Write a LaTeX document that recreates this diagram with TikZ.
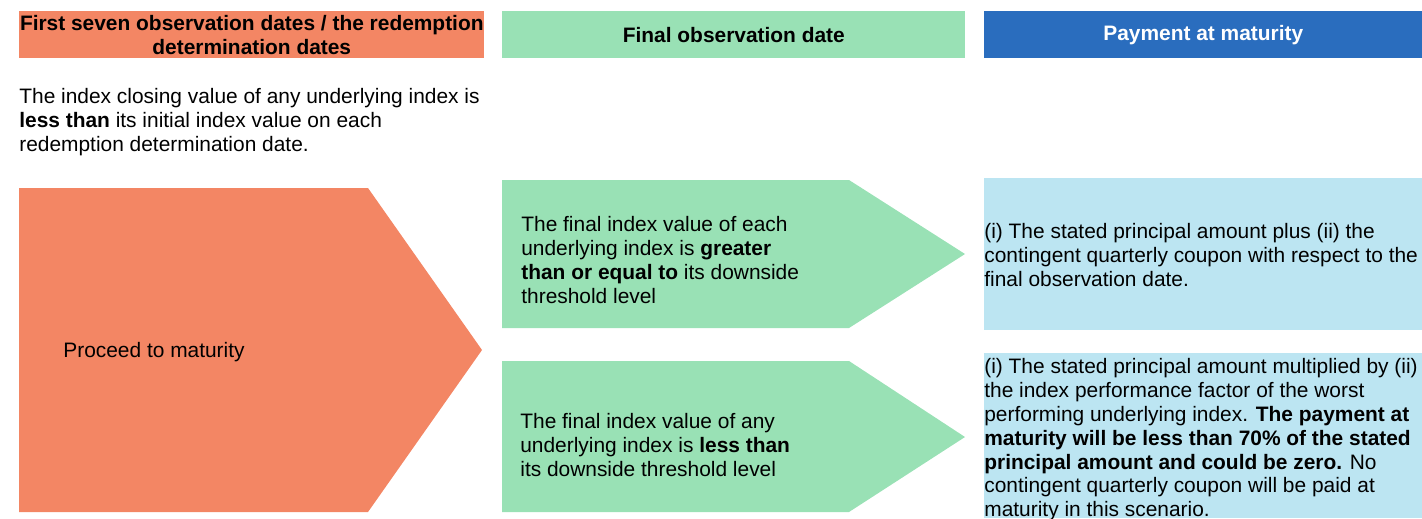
\documentclass[tikz,border=0pt]{standalone}
\usepackage{fontspec}
\setmainfont{Liberation Sans}
\usepackage{tikz}
\usetikzlibrary{positioning}
\definecolor{obsorange}{RGB}{243,134,100}
\definecolor{obsgreen}{RGB}{153,225,181}
\definecolor{paydark}{RGB}{42,109,190}
\definecolor{paylight}{RGB}{188,229,242}

\begin{document}
\begin{tikzpicture}[x=0.02cm,y=-0.02cm,
    hdr/.style={anchor=north west,inner sep=0pt,minimum height=0.94cm,
                align=center,font=\fontsize{11.9}{13.6}\selectfont\bfseries},
    txt/.style={anchor=north west,inner sep=0pt,align=left,
                font=\fontsize{11.9}{13.6}\selectfont}]
  \useasboundingbox (0,0) rectangle (1422,518);
  % column headers
  \node[hdr,fill=obsorange,minimum width=9.3cm] (hfirst) at (19,11)
    {First seven observation dates / the redemption\\determination dates};
  \node[hdr,fill=obsgreen,minimum width=9.26cm] (hfinal) at (502,11)
    {Final observation date};
  \node[hdr,fill=paydark,text=white,minimum width=8.76cm] (hpay) at (984,11)
    {Payment at maturity};
  \node[txt] (cond) at (19,88)
    {The index closing value of any underlying index is\\
     \textbf{less than} its initial index value on each\\
     redemption determination date.};
  % arrows and boxes
  \fill[obsorange] (19,188) -- (368,188) -- (482,350) -- (368,512) -- (19,512) -- cycle;
  \fill[obsgreen] (502,180) -- (849,180) -- (965,254) -- (849,328) -- (502,328) -- cycle;
  \fill[obsgreen] (502,361) -- (849,361) -- (965,437) -- (849,512) -- (502,512) -- cycle;
  \fill[paylight] (984,178) rectangle (1422,330);
  \fill[paylight] (984,353) rectangle (1422,518);
  \node[txt] (proceed) at (63,342) {Proceed to maturity};
  \node[txt] (up) at (521,216)
    {The final index value of each\\
     underlying index is \textbf{greater}\\
     \textbf{than or equal to} its downside\\
     threshold level};
  \node[txt] (down) at (520,413)
    {The final index value of any\\
     underlying index is \textbf{less than}\\
     its downside threshold level};
  \node[txt] (payup) at (984,223)
    {(i) The stated principal amount plus (ii) the\\
     contingent quarterly coupon with respect to the\\
     final observation date.};
  \node[txt] (paydown) at (984,358)
    {(i) The stated principal amount multiplied by (ii)\\
     the index performance factor of the worst\\
     performing underlying index. \textbf{The payment at}\\
     \textbf{maturity will be less than 70\% of the stated}\\
     \textbf{principal amount and could be zero.} No\\
     contingent quarterly coupon will be paid at\\
     maturity in this scenario.};
\end{tikzpicture}
\end{document}
